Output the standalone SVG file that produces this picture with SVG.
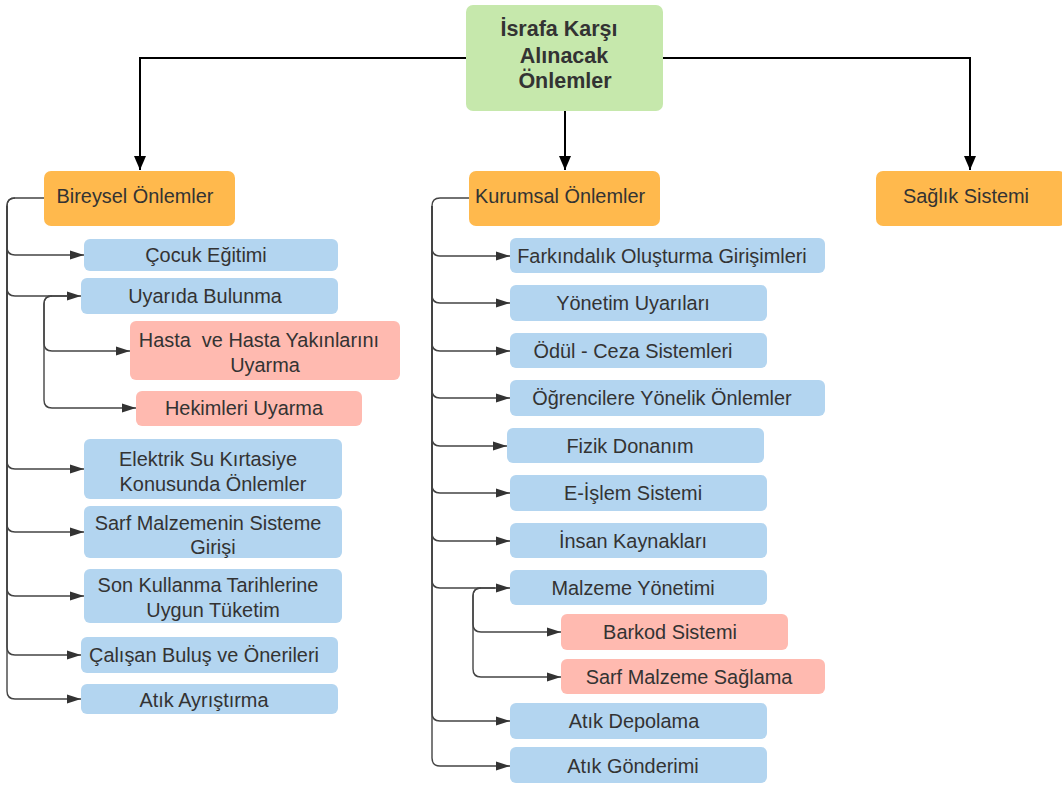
<svg xmlns="http://www.w3.org/2000/svg" width="1062" height="785" viewBox="0 0 1062 785">
<style>
.t{font-family:"Liberation Sans",Arial,sans-serif;font-size:19.9px;fill:#333333;text-anchor:middle}
.r{font-family:"Liberation Sans",Arial,sans-serif;font-size:21.5px;font-weight:bold;fill:#333333;text-anchor:middle}
.blue{fill:#B3D5F0}
.pink{fill:#FFBAB0}
.orange{fill:#FFB94D}
.green{fill:#C6E8AC}
.c{fill:none;stroke:#444444;stroke-width:1.4}
.m{fill:none;stroke:#000000;stroke-width:2}
</style>
<defs>
<marker id="a" markerUnits="userSpaceOnUse" markerWidth="14" markerHeight="12" refX="14" refY="6" orient="auto">
<path d="M0,1.5 L14,6 L0,10.5 Z" fill="#333333"/>
</marker>
<marker id="b" markerUnits="userSpaceOnUse" markerWidth="14" markerHeight="14" refX="14" refY="7" orient="auto">
<path d="M0,1 L14,7 L0,13 Z" fill="#000000"/>
</marker>
</defs>
<rect width="1062" height="785" fill="#ffffff"/>
<g id="connectors">
<path class="m" d="M466 58 H140 V170" marker-end="url(#b)"/>
<path class="m" d="M565 111 V170" marker-end="url(#b)"/>
<path class="m" d="M663 58 H970 V170" marker-end="url(#b)"/>
<path class="c" d="M44 198 H15 Q7 198 7 206 V247 Q7 255 15 255 H84" marker-end="url(#a)"/>
<path class="c" d="M15 198 Q7 198 7 206 V288 Q7 296 15 296 H81" marker-end="url(#a)"/>
<path class="c" d="M68 296 H52 Q44 296 44 304 V343 Q44 351 52 351 H130" marker-end="url(#a)"/>
<path class="c" d="M52 296 Q44 296 44 304 V400 Q44 408 52 408 H136" marker-end="url(#a)"/>
<path class="c" d="M7 206 V461 Q7 469 15 469 H84" marker-end="url(#a)"/>
<path class="c" d="M7 206 V524 Q7 532 15 532 H84" marker-end="url(#a)"/>
<path class="c" d="M7 206 V588 Q7 596 15 596 H84" marker-end="url(#a)"/>
<path class="c" d="M7 206 V647 Q7 655 15 655 H81" marker-end="url(#a)"/>
<path class="c" d="M7 206 V691 Q7 699 15 699 H81" marker-end="url(#a)"/>
<path class="c" d="M469 198 H440 Q432 198 432 206 V248 Q432 256 440 256 H510" marker-end="url(#a)"/>
<path class="c" d="M432 206 V295 Q432 303 440 303 H510" marker-end="url(#a)"/>
<path class="c" d="M432 206 V343 Q432 351 440 351 H510" marker-end="url(#a)"/>
<path class="c" d="M432 206 V390 Q432 398 440 398 H510" marker-end="url(#a)"/>
<path class="c" d="M432 206 V438 Q432 446 440 446 H507" marker-end="url(#a)"/>
<path class="c" d="M432 206 V485 Q432 493 440 493 H510" marker-end="url(#a)"/>
<path class="c" d="M432 206 V533 Q432 541 440 541 H510" marker-end="url(#a)"/>
<path class="c" d="M432 206 V580 Q432 588 440 588 H510" marker-end="url(#a)"/>
<path class="c" d="M495 588 H481 Q473 588 473 596 V624 Q473 632 481 632 H561" marker-end="url(#a)"/>
<path class="c" d="M481 588 Q473 588 473 596 V669 Q473 677 481 677 H561" marker-end="url(#a)"/>
<path class="c" d="M432 206 V713 Q432 721 440 721 H510" marker-end="url(#a)"/>
<path class="c" d="M432 206 V758 Q432 766 440 766 H510" marker-end="url(#a)"/>
</g>
<g id="root"><rect class="green" x="466" y="5" width="197" height="106" rx="7"/>
<text class="r" x="559" y="36">İsrafa Karşı</text><text class="r" x="564" y="63">Alınacak</text><text class="r" x="565" y="88">Önlemler</text></g>
<g id="bireysel"><rect class="orange" x="44" y="171" width="191" height="55" rx="7"/><text class="t" x="135" y="203">Bireysel Önlemler</text></g>
<g id="kurumsal"><rect class="orange" x="469" y="171" width="191" height="55" rx="7"/><text class="t" x="560" y="203">Kurumsal Önlemler</text></g>
<g id="saglik"><rect class="orange" x="876" y="171" width="190" height="55" rx="7"/><text class="t" x="966" y="203">Sağlık Sistemi</text></g>
<g id="cocuk"><rect class="blue" x="84" y="239" width="254" height="32" rx="6"/><text class="t" x="206" y="262">Çocuk Eğitimi</text></g>
<g id="uyarida"><rect class="blue" x="81" y="278" width="257" height="36" rx="6"/><text class="t" x="205" y="303">Uyarıda Bulunma</text></g>
<g id="hasta"><rect class="pink" x="130" y="321" width="270" height="59" rx="6"/><text class="t" x="259" y="347" xml:space="preserve">Hasta  ve Hasta Yakınlarını</text><text class="t" x="265" y="372">Uyarma</text></g>
<g id="hekim"><rect class="pink" x="136" y="391" width="226" height="35" rx="6"/><text class="t" x="244" y="415">Hekimleri Uyarma</text></g>
<g id="elektrik"><rect class="blue" x="84" y="439" width="258" height="60" rx="6"/><text class="t" x="208" y="466">Elektrik Su Kırtasiye</text><text class="t" x="213" y="491">Konusunda Önlemler</text></g>
<g id="sarfgiris"><rect class="blue" x="84" y="506" width="258" height="52" rx="6"/><text class="t" x="208" y="530">Sarf Malzemenin Sisteme</text><text class="t" x="213" y="554">Girişi</text></g>
<g id="sonkullanma"><rect class="blue" x="84" y="569" width="258" height="54" rx="6"/><text class="t" x="208" y="592">Son Kullanma Tarihlerine</text><text class="t" x="213" y="617">Uygun Tüketim</text></g>
<g id="calisan"><rect class="blue" x="81" y="637" width="257" height="36" rx="6"/><text class="t" x="204" y="662">Çalışan Buluş ve Önerileri</text></g>
<g id="atikayristirma"><rect class="blue" x="81" y="684" width="257" height="30" rx="6"/><text class="t" x="204" y="707">Atık Ayrıştırma</text></g>
<g id="farkindalik"><rect class="blue" x="510" y="238" width="315" height="35" rx="6"/><text class="t" x="662" y="263">Farkındalık Oluşturma Girişimleri</text></g>
<g id="yonetim"><rect class="blue" x="510" y="285" width="257" height="36" rx="6"/><text class="t" x="633" y="310">Yönetim Uyarıları</text></g>
<g id="odul"><rect class="blue" x="510" y="333" width="257" height="35" rx="6"/><text class="t" x="633" y="358">Ödül - Ceza Sistemleri</text></g>
<g id="ogrenci"><rect class="blue" x="510" y="380" width="315" height="36" rx="6"/><text class="t" x="662" y="405">Öğrencilere Yönelik Önlemler</text></g>
<g id="fizik"><rect class="blue" x="507" y="428" width="257" height="35" rx="6"/><text class="t" x="630" y="453">Fizik Donanım</text></g>
<g id="eislem"><rect class="blue" x="510" y="475" width="257" height="36" rx="6"/><text class="t" x="633" y="500">E-İşlem Sistemi</text></g>
<g id="insan"><rect class="blue" x="510" y="523" width="257" height="35" rx="6"/><text class="t" x="633" y="548">İnsan Kaynakları</text></g>
<g id="malzeme"><rect class="blue" x="510" y="570" width="257" height="35" rx="6"/><text class="t" x="633" y="595">Malzeme Yönetimi</text></g>
<g id="barkod"><rect class="pink" x="561" y="614" width="227" height="36" rx="6"/><text class="t" x="670" y="639">Barkod Sistemi</text></g>
<g id="sarfsaglama"><rect class="pink" x="561" y="659" width="264" height="35" rx="6"/><text class="t" x="689" y="684">Sarf Malzeme Sağlama</text></g>
<g id="atikdepolama"><rect class="blue" x="510" y="703" width="257" height="36" rx="6"/><text class="t" x="634" y="728">Atık Depolama</text></g>
<g id="atikgonderim"><rect class="blue" x="510" y="747" width="257" height="36" rx="6"/><text class="t" x="633" y="773">Atık Gönderimi</text></g>
</svg>
